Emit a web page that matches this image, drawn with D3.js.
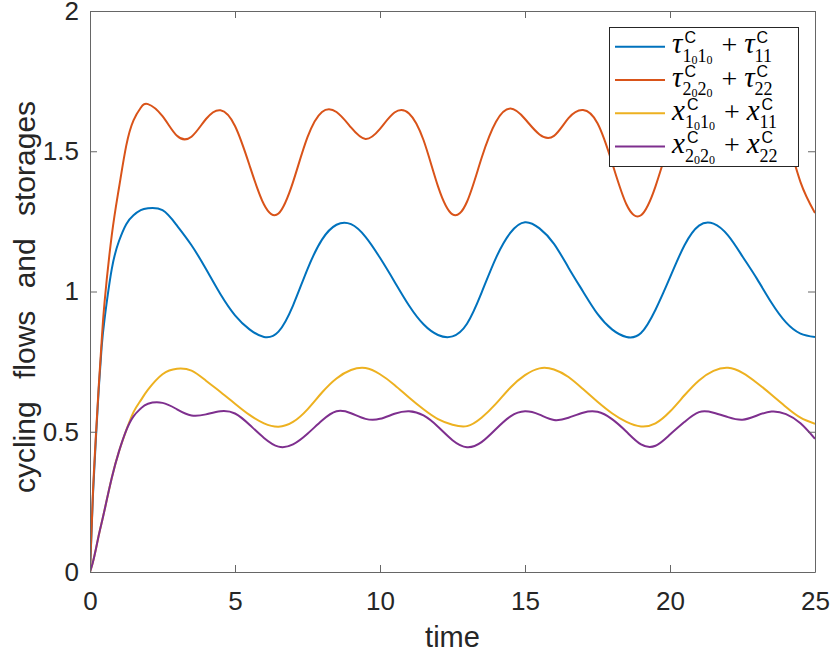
<!DOCTYPE html>
<html>
<head>
<meta charset="utf-8">
<script src="https://cdn.jsdelivr.net/npm/d3@7"></script>
<style>
  body { margin: 0; background: #fff; }
  svg { font-family: "Liberation Sans", Arial, sans-serif; }
  .axis text { font-size: 26px; fill: #262626; }
  .axis path, .axis line { stroke: #666; }
  .sym { font-family: "Liberation Serif", serif; font-style: italic; font-size: 29px; fill: #000; }
  .op { font-family: "Liberation Serif", serif; font-size: 28px; fill: #000; }
  .sub { font-family: "Liberation Serif", serif; font-size: 18px; fill: #000; }
  .sup { font-family: "Liberation Sans", sans-serif; font-size: 16px; fill: #000; }
</style>
</head>
<body>
<svg id="chart" width="830" height="655"></svg>
<script>
// values
var time = [0, 0.1, 0.2, 0.3, 0.4, 0.5, 0.75, 1, 1.25, 1.5, 1.75, 2,
    2.5, 3, 3.5, 4, 4.5, 5, 5.5, 6,
    6.5, 7, 7.5, 8, 8.5, 9, 9.5, 10, 10.5, 11, 11.5, 12,
    12.5, 13, 13.5, 14, 14.5, 15, 15.5, 16, 16.5, 17, 17.5, 18, 18.5,
    19, 19.5, 20, 20.5, 21, 21.5, 22, 22.5, 23, 23.5, 24, 24.5, 25];

var tau1 = [0, 0.27, 0.47, 0.65, 0.8, 0.9, 1.08, 1.18, 1.24, 1.272, 1.29, 1.297,
    1.29, 1.235, 1.165, 1.08, 0.99, 0.915, 0.865, 0.838,
    0.857, 0.95, 1.08, 1.185, 1.238, 1.24, 1.195, 1.12, 1.035, 0.95, 0.883, 0.845,
    0.84, 0.885, 0.995, 1.12, 1.21, 1.247, 1.225, 1.17, 1.085, 1.0, 0.92, 0.865, 0.838,
    0.852, 0.935, 1.05, 1.165, 1.235, 1.242, 1.2, 1.125, 1.045, 0.96, 0.89, 0.85, 0.838];

var tau2 = [0, 0.28, 0.48, 0.66, 0.82, 0.96, 1.2, 1.37, 1.52, 1.61, 1.655, 1.668,
    1.625, 1.555, 1.552, 1.615, 1.646, 1.59, 1.45, 1.31,
    1.278, 1.39, 1.55, 1.64, 1.64, 1.585, 1.544, 1.58, 1.638, 1.635, 1.54, 1.375,
    1.275, 1.32, 1.475, 1.605, 1.652, 1.615, 1.56, 1.555, 1.618, 1.647, 1.6, 1.46, 1.31,
    1.272, 1.375, 1.535, 1.635, 1.645, 1.59, 1.545, 1.575, 1.635, 1.64, 1.555, 1.39, 1.28];

var x1 = [0, 0.035, 0.08, 0.13, 0.175, 0.22, 0.335, 0.43, 0.505, 0.57, 0.612, 0.65,
    0.705, 0.725, 0.718, 0.682, 0.642, 0.6, 0.56, 0.53,
    0.518, 0.535, 0.58, 0.64, 0.69, 0.72, 0.727, 0.705, 0.667, 0.622, 0.58, 0.545,
    0.525, 0.52, 0.55, 0.6, 0.658, 0.702, 0.726, 0.722, 0.695, 0.652, 0.607, 0.566, 0.535,
    0.519, 0.53, 0.572, 0.63, 0.683, 0.717, 0.728, 0.71, 0.674, 0.632, 0.588, 0.55, 0.528];

var x2 = [0, 0.035, 0.08, 0.13, 0.175, 0.22, 0.335, 0.43, 0.505, 0.555, 0.583, 0.6,
    0.603, 0.58, 0.558, 0.562, 0.573, 0.565, 0.525, 0.478,
    0.447, 0.455, 0.493, 0.54, 0.573, 0.566, 0.546, 0.546, 0.564, 0.573, 0.558, 0.518,
    0.47, 0.445, 0.463, 0.51, 0.555, 0.573, 0.561, 0.542, 0.55, 0.568, 0.571, 0.545, 0.5,
    0.455, 0.45, 0.49, 0.535, 0.57, 0.568, 0.552, 0.543, 0.558, 0.572, 0.563, 0.53, 0.475];

var xTicks = [0, 5, 10, 15, 20, 25];
var yTicks = [0, 0.5, 1, 1.5, 2];

var seriesNames = ["tau1", "tau2", "x1", "x2"];
var seriesValues = [tau1, tau2, x1, x2];
var colors = ["#0072BD", "#D95319", "#EDB120", "#7E2F8E"];

// legend labels: symbol with subscript pieces [text, level]
var legendTerms = [
    [{ sym: "τ", sub: [["1", 1], ["0", 2], ["1", 1], ["0", 2]] }, { sym: "τ", sub: [["11", 1]] }],
    [{ sym: "τ", sub: [["2", 1], ["0", 2], ["2", 1], ["0", 2]] }, { sym: "τ", sub: [["22", 1]] }],
    [{ sym: "x", sub: [["1", 1], ["0", 2], ["1", 1], ["0", 2]] }, { sym: "x", sub: [["11", 1]] }],
    [{ sym: "x", sub: [["2", 1], ["0", 2], ["2", 1], ["0", 2]] }, { sym: "x", sub: [["22", 1]] }]
];

var svg = d3.select("#chart"),
    margin = { top: 11, right: 15, bottom: 83, left: 90 },
    width = 830 - margin.left - margin.right,
    height = 655 - margin.top - margin.bottom;

var x = d3.scaleLinear().domain([0, 25]).range([0, width]),
    y = d3.scaleLinear().domain([0, 2]).range([height, 0]);

svg.append("defs").append("clipPath")
    .attr("id", "clip")
    .append("rect")
    .attr("width", width)
    .attr("height", height);

var g = svg.append("g")
    .attr("transform", "translate(" + margin.left + "," + margin.top + ")");

// curves
var line = d3.line()
    .x(function(d) { return x(d[0]); })
    .y(function(d) { return y(d[1]); })
    .curve(d3.curveNatural);

var lines = g.append("g").attr("clip-path", "url(#clip)");
seriesValues.forEach(function(vals, i) {
    lines.append("path")
        .datum(time.map(function(t, j) { return [t, vals[j]]; }))
        .attr("class", "line " + seriesNames[i])
        .attr("fill", "none")
        .attr("stroke", colors[i])
        .attr("stroke-width", 2)
        .attr("d", line);
});

// axes, ticks pointing inward on all four sides
g.append("g")
    .attr("class", "axis axis--x")
    .attr("transform", "translate(0," + height + ")")
    .call(d3.axisBottom(x).tickValues(xTicks).tickSize(-7).tickPadding(20).tickSizeOuter(0));

g.append("g")
    .attr("class", "axis axis--top")
    .call(d3.axisTop(x).tickValues(xTicks).tickSize(-7).tickFormat("").tickSizeOuter(0));

g.append("g")
    .attr("class", "axis axis--y")
    .call(d3.axisLeft(y).tickValues(yTicks).tickSize(-7).tickPadding(11).tickSizeOuter(0)
        .tickFormat(function(d) { return String(d); }));

g.append("g")
    .attr("class", "axis axis--right")
    .attr("transform", "translate(" + width + ",0)")
    .call(d3.axisRight(y).tickValues(yTicks).tickSize(-7).tickFormat("").tickSizeOuter(0));

g.selectAll(".axis .tick text").attr("fill", "#262626");

// axis labels
svg.append("text")
    .attr("x", margin.left + width / 2)
    .attr("y", 647)
    .attr("text-anchor", "middle")
    .style("font-size", "29px")
    .attr("fill", "#262626")
    .text("time");

svg.append("text")
    .attr("transform", "translate(35,297) rotate(-90)")
    .attr("text-anchor", "middle")
    .style("font-size", "30px")
    .style("word-spacing", "14px")
    .attr("fill", "#262626")
    .text("cycling flows and storages");

// legend
var legend = svg.append("g").attr("class", "legend");
legend.append("rect")
    .attr("x", 609.5).attr("y", 27.5)
    .attr("width", 189).attr("height", 139)
    .attr("fill", "#fff")
    .attr("stroke", "#262626")
    .attr("stroke-width", 1);

function drawTerm(p, x0, base, term) {
    var s = p.append("text").attr("class", "sym").attr("x", x0).attr("y", base).text(term.sym);
    var sx = x0 + s.node().getComputedTextLength() + 1;
    var sup = p.append("text").attr("class", "sup").attr("x", sx + 1).attr("y", base - 10).text("C");
    var sub = p.append("text").attr("class", "sub").attr("x", sx - 1).attr("y", base + 8.5);
    var level = 1;
    term.sub.forEach(function(piece) {
        var dy = piece[1] === level ? 0 : (piece[1] === 2 ? 2 : -2);
        level = piece[1];
        sub.append("tspan")
            .attr("dy", dy)
            .style("font-size", piece[1] === 2 ? "12px" : "18px")
            .text(piece[0]);
    });
    return sx + Math.max(sup.node().getComputedTextLength() + 1, sub.node().getComputedTextLength() - 1);
}

legendTerms.forEach(function(terms, i) {
    var ly = 46.7 + i * 33.3;
    var row = legend.append("g");
    row.append("line")
        .attr("x1", 615).attr("x2", 665)
        .attr("y1", ly).attr("y2", ly)
        .attr("stroke", colors[i])
        .attr("stroke-width", 2);
    var base = ly + 6.5;
    var xe = drawTerm(row, 672, base, terms[0]);
    var plus = row.append("text").attr("class", "op").attr("x", xe + 9).attr("y", base + 1).text("+");
    var xp = xe + 9 + plus.node().getComputedTextLength() + 7;
    drawTerm(row, xp, base, terms[1]);
});
</script>
</body>
</html>
